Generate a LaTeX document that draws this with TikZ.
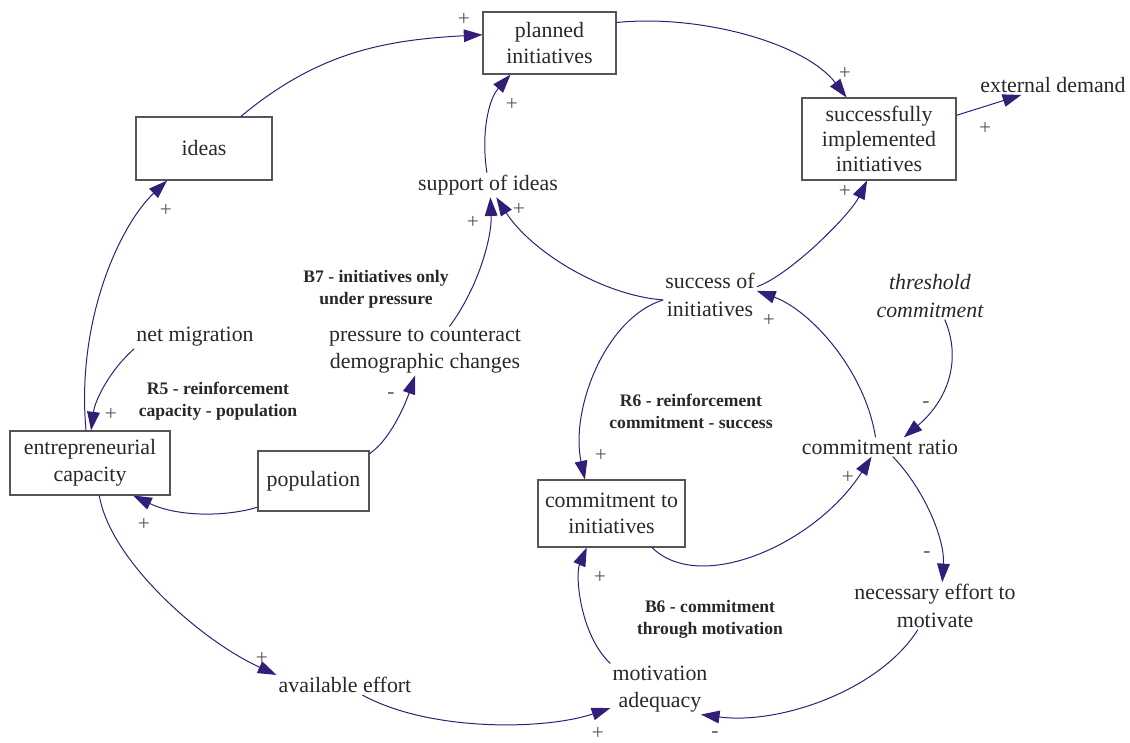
\documentclass[tikz,border=0pt]{standalone}
\usepackage{fontspec}
\setmainfont{Liberation Serif}
\usetikzlibrary{arrows.meta}
\definecolor{arr}{RGB}{50,30,120}
\definecolor{boxc}{RGB}{85,85,85}
\definecolor{txt}{RGB}{40,40,40}
\definecolor{sgnc}{RGB}{85,85,85}
\tikzset{
 box/.style={draw=boxc, line width=0.8pt, inner sep=0pt, align=center, font=\fontsize{16.4}{20}\selectfont, text=txt},
 var/.style={inner sep=1.5pt, align=center, font=\fontsize{16.4}{20.5}\selectfont, text=txt},
 loopl/.style={inner sep=0pt, align=center, font=\fontsize{13.2}{16.5}\selectfont\bfseries, text=txt},
 sgn/.style={inner sep=0pt, font=\fontsize{16}{16}\selectfont, text=sgnc},
 link/.style={draw=arr, line width=0.75pt, -{Triangle[length=14pt,width=9.5pt]}},
}
\begin{document}
\begin{tikzpicture}[x=0.75pt,y=-0.75pt]
\useasboundingbox (0,0) rectangle (1130,742);
% stocks
\node[box, minimum width=99.75pt, minimum height=46.5pt] (planned) at (549.5,43) {planned\\initiatives};
\node[box, minimum width=102pt, minimum height=47.25pt] (ideas) at (204,148.5) {ideas};
\node[box, minimum width=115.5pt, minimum height=61.5pt, font=\fontsize{16.4}{19}\selectfont] (SII) at (879,139) {successfully\\implemented\\initiatives};
\node[box, minimum width=120pt, minimum height=48pt] (ecap) at (90,463) {entrepreneurial\\capacity};
\node[box, minimum width=83.25pt, minimum height=45pt] (population) at (313.5,481) {population};
\node[box, minimum width=110.25pt, minimum height=50.25pt] (cti) at (611.5,513.5) {commitment to\\initiatives};
% variables
\node[var] (ext) at (1053,85) {external demand};
\node[var] (support) at (488,185) {support of ideas};
\node[var] (success) at (710,295) {success of\\initiatives};
\node[var, font=\fontsize{16.4}{20.5}\selectfont\itshape] (thresh) at (930,296) {threshold\\commitment};
\node[var] (netmig) at (195,337) {net migration};
\node[var] (pressure) at (425,351) {pressure to counteract\\demographic changes};
\node[var] (cratio) at (880,447) {commitment ratio};
\node[var] (necess) at (935,606) {necessary effort to\\motivate};
\node[var] (motiv) at (660,689) {motivation\\adequacy};
\node[var] (avail) at (345,685) {available effort};
% loop labels
\node[loopl] (B7) at (376,289) {B7 - initiatives only\\under pressure};
\node[loopl] (R5) at (218,401) {R5 - reinforcement\\capacity - population};
\node[loopl] (R6) at (691,411) {R6 - reinforcement\\commitment - success};
\node[loopl] (B6) at (710,619) {B6 - commitment\\through motivation};
% links
\draw[link] (ideas.41) .. controls (317,53) and (383,40) .. (planned.173);
\draw[link] (planned.17) .. controls (700,14) and (805,43) .. (SII.128);
\draw[link] (SII.17) -- (ext);
\draw[link] (support.95) .. controls (481,135) and (488,100) .. (planned.219);
\draw[link] (success.10) .. controls (790,275) and (850,215) .. (SII.254);
\draw[link] (success.186) .. controls (600,295) and (530,250) .. (support.-56);
\draw[link] (pressure.45) .. controls (480,285) and (492,235) .. (support.-79);
\draw[link] (population.26) .. controls (390,440) and (405,405) .. (pressure.248);
\draw[link] (netmig.south west) .. controls (110,370) and (95,400) .. (ecap.88);
\draw[link] (ecap.97) .. controls (76,320) and (120,225) .. (ideas.221);
\draw[link] (population.205) .. controls (230,516) and (180,518) .. (ecap.-37);
\draw[link] (ecap.-74) .. controls (110,560) and (200,640) .. (avail.north west);
\draw[link] (avail.-30) .. controls (430,732) and (545,730) .. (motiv.201);
\draw[link] (necess.234) .. controls (880,690) and (780,725) .. (motiv.-32);
\draw[link] (motiv.north west) .. controls (580,635) and (575,575) .. (cti.234);
\draw[link] (cti.-40) .. controls (700,595) and (816,544) .. (cratio.229);
\draw[link] (cratio.-37) .. controls (925,490) and (945,540) .. (necess.73);
\draw[link] (thresh.-58) .. controls (962,360) and (948,400) .. (cratio.22);
\draw[link] (cratio.115) .. controls (865,370) and (810,310) .. (success.5);
\draw[link] (success.186) .. controls (605,318) and (570,410) .. (cti.128);
% polarity signs
\node[sgn] (sa) at (464,19) {+};
\node[sgn] (sb) at (845,73) {+};
\node[sgn] (sc) at (985,128) {+};
\node[sgn] (sd) at (512,104) {+};
\node[sgn] (se) at (845,191) {+};
\node[sgn] (sf) at (519,209) {+};
\node[sgn] (sg) at (473,222) {+};
\node[sgn] (sh) at (391,396) {-};
\node[sgn] (si) at (111,414) {+};
\node[sgn] (sj) at (166,210) {+};
\node[sgn] (sk) at (144,524) {+};
\node[sgn] (sl) at (262,658) {+};
\node[sgn] (sm) at (598,733) {+};
\node[sgn] (sn) at (715,735) {-};
\node[sgn] (so) at (600,577) {+};
\node[sgn] (sp) at (848,477) {+};
\node[sgn] (sq) at (927,555) {-};
\node[sgn] (sr) at (926,405) {-};
\node[sgn] (ss) at (769,320) {+};
\node[sgn] (st) at (601,455) {+};
\end{tikzpicture}
\end{document}
